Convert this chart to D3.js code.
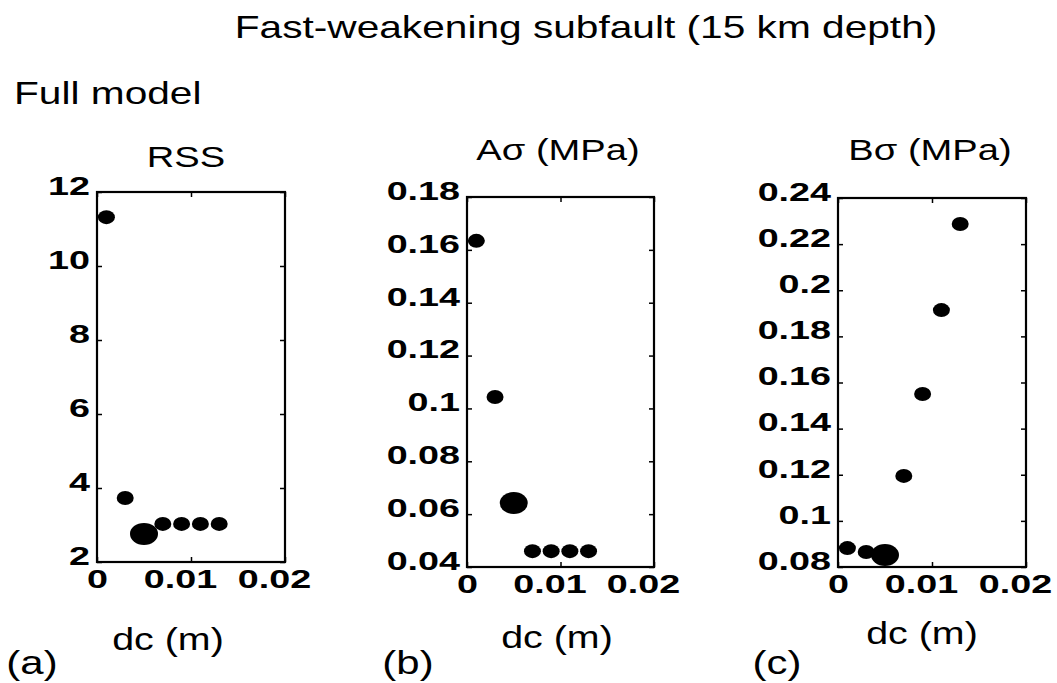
<!DOCTYPE html>
<html>
<head>
<meta charset="utf-8">
<script src="https://cdn.jsdelivr.net/npm/d3@7"></script>
<style>
  body { margin: 0; background: #fff; }
  svg text { font-family: "Liberation Sans", Arial, sans-serif; fill: #000; }
</style>
</head>
<body>
<div id="chart"></div>
<script>
// values
const dc = [0.001, 0.003, 0.005, 0.007, 0.009, 0.011, 0.013];
const rss = [11.32, 3.73, 2.76, 3.03, 3.03, 3.03, 3.03];
const aSigma = [0.1634, 0.1043, 0.0642, 0.046, 0.046, 0.046, 0.046];
const bSigma = [0.0882, 0.0865, 0.0852, 0.1195, 0.155, 0.1914, 0.2287];
const bestDc = 0.005;

const xTicks = [0, 0.01, 0.02];
const xTickLabels = ["0", "0.01", "0.02"];
const rssTicks = [2, 4, 6, 8, 10, 12];
const aTicks = [0.04, 0.06, 0.08, 0.1, 0.12, 0.14, 0.16, 0.18];
const bTicks = [0.08, 0.1, 0.12, 0.14, 0.16, 0.18, 0.2, 0.22, 0.24];

const panelTitles = ["RSS", "A\u03c3 (MPa)", "B\u03c3 (MPa)"];
const panelLetters = ["(a)", "(b)", "(c)"];
const series = [rss, aSigma, bSigma];
const yTickSets = [rssTicks, aTicks, bTicks];

// page layout
const W = 1057, H = 683;
const textStretch = 1.27, tickStretch = 1.45;
const panels = [
  { left: 97,  right: 285,  top: 192, bottom: 562, titleX: 186, titleY: 167, labelX: 168, labelY: 650, letterX: 32,  letterY: 674 },
  { left: 467, right: 654,  top: 197, bottom: 567, titleX: 558, titleY: 160, labelX: 557, labelY: 648, letterX: 408, letterY: 674 },
  { left: 838, right: 1026, top: 198, bottom: 567, titleX: 930, titleY: 160, labelX: 922, labelY: 644, letterX: 777, letterY: 674 }
];

const svg = d3.select("#chart").append("svg")
  .attr("width", W)
  .attr("height", H);

function stretch(sel, k) {
  sel.each(function () {
    const w = this.getComputedTextLength();
    d3.select(this).attr("textLength", w * k).attr("lengthAdjust", "spacingAndGlyphs");
  });
}

svg.append("text")
  .attr("x", 586).attr("y", 38)
  .attr("text-anchor", "middle")
  .style("font-size", "32px")
  .text("Fast-weakening subfault (15 km depth)")
  .call(stretch, textStretch);

svg.append("text")
  .attr("x", 14).attr("y", 104)
  .style("font-size", "32px")
  .text("Full model")
  .call(stretch, textStretch);

const fmt = d => String(+d.toFixed(2));

panels.forEach((p, i) => {
  const vals = series[i];
  const yt = yTickSets[i];
  const x = d3.scaleLinear().domain([0, 0.02]).range([p.left, p.right]);
  const y = d3.scaleLinear().domain([yt[0], yt[yt.length - 1]]).range([p.bottom, p.top]);

  const g = svg.append("g");

  // left axis with labels, inward ticks
  const left = g.append("g")
    .attr("transform", `translate(${p.left},0)`)
    .call(d3.axisLeft(y).tickValues(yt).tickFormat(fmt).tickSizeInner(-5).tickSizeOuter(0).tickPadding(7));
  left.selectAll("text").attr("y", -6).style("font-size", "26px").style("font-weight", "bold")
    .call(stretch, tickStretch);

  g.append("g")
    .attr("transform", `translate(${p.right},0)`)
    .call(d3.axisRight(y).tickValues(yt).tickFormat("").tickSizeInner(-5).tickSizeOuter(0));

  const bottom = g.append("g")
    .attr("transform", `translate(0,${p.bottom})`)
    .call(d3.axisBottom(x).tickValues(xTicks).tickFormat((d, j) => xTickLabels[j]).tickSizeInner(-5).tickSizeOuter(0).tickPadding(8));
  bottom.selectAll("text").attr("dx", d => d > 0 ? -11 : 0)
    .style("font-size", "26px").style("font-weight", "bold")
    .call(stretch, tickStretch);

  g.append("g")
    .attr("transform", `translate(0,${p.top})`)
    .call(d3.axisTop(x).tickValues(xTicks).tickFormat("").tickSizeInner(-5).tickSizeOuter(0));

  g.selectAll(".domain").remove();
  g.selectAll(".tick line").attr("stroke", "#000").attr("stroke-width", 1.5);

  g.append("rect")
    .attr("x", p.left).attr("y", p.top)
    .attr("width", p.right - p.left).attr("height", p.bottom - p.top)
    .attr("fill", "none").attr("stroke", "#000").attr("stroke-width", 2.2);

  const pts = dc.map((d, j) => ({ dc: d, v: vals[j] }));
  g.selectAll("ellipse")
    .data(pts)
    .enter()
    .append("ellipse")
    .attr("cx", d => x(d.dc))
    .attr("cy", d => y(d.v))
    .attr("rx", d => d.dc === bestDc ? 14 : 8.5)
    .attr("ry", d => d.dc === bestDc ? 11 : 7)
    .attr("fill", "#000");

  g.append("text")
    .attr("x", p.titleX).attr("y", p.titleY)
    .attr("text-anchor", "middle")
    .style("font-size", "30px")
    .text(panelTitles[i])
    .call(stretch, textStretch);

  g.append("text")
    .attr("x", p.labelX).attr("y", p.labelY)
    .attr("text-anchor", "middle")
    .style("font-size", "31px")
    .text("dc (m)")
    .call(stretch, textStretch);

  g.append("text")
    .attr("x", p.letterX).attr("y", p.letterY)
    .attr("text-anchor", "middle")
    .style("font-size", "33px")
    .text(panelLetters[i])
    .call(stretch, textStretch);
});
</script>
</body>
</html>
